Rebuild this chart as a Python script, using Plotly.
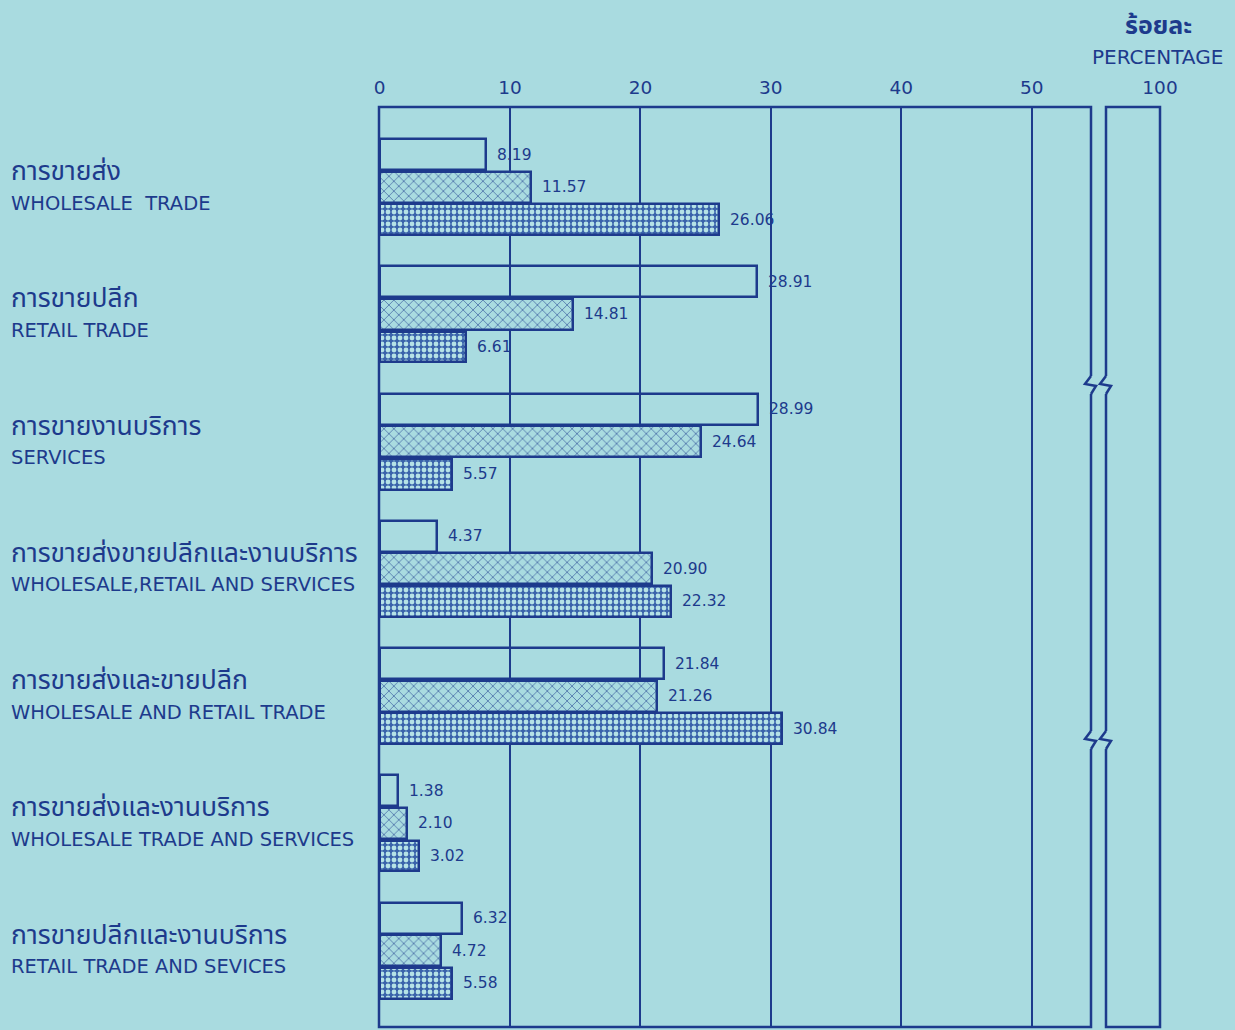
import plotly.graph_objects as go

# ---------------- data ----------------
cat_th = ["การขายส่ง", "การขายปลีก", "การขายงานบริการ", "การขายส่งขายปลีกและงานบริการ",
          "การขายส่งและขายปลีก", "การขายส่งและงานบริการ", "การขายปลีกและงานบริการ"]
cat_en = ["WHOLESALE  TRADE", "RETAIL TRADE", "SERVICES", "WHOLESALE,RETAIL AND SERVICES",
          "WHOLESALE AND RETAIL TRADE", "WHOLESALE TRADE AND SERVICES", "RETAIL TRADE AND SEVICES"]
series_a = [8.19, 28.91, 28.99, 4.37, 21.84, 1.38, 6.32]
series_b = [11.57, 14.81, 24.64, 20.90, 21.26, 2.10, 4.72]
series_c = [26.06, 6.61, 5.57, 22.32, 30.84, 3.02, 5.58]
x_ticks = [0, 10, 20, 30, 40, 50]
x2_ticks = [100]

# ---------------- style ----------------
W, H = 1235, 1030
BG = "#a9dbe0"
INK = "#1d3a8c"
FONT = "DejaVu Sans, Noto Sans, sans-serif"
TFONT = "Noto Sans Thai, Loma, Garuda, Noto Sans, sans-serif"

def px(x):
    return x / W

def py(y):
    return 1 - y / H

idx = list(range(len(cat_th)))
offs = [-0.256, 0.0, 0.256]
bw = 0.243

fig = go.Figure()
DOT_BG = "#3a63ab"
patterns = [
    dict(shape=""),
    dict(shape="x", fgcolor=INK, bgcolor=BG, size=7, solidity=0.15, fillmode="replace"),
    dict(shape=".", fgcolor="#b5e2e6", bgcolor=DOT_BG, size=6, solidity=0.5, fillmode="replace"),
]
fills = ["rgba(0,0,0,0)", BG, DOT_BG]
for vals, off, pat, fc in zip([series_a, series_b, series_c], offs, patterns, fills):
    fig.add_trace(go.Bar(
        x=vals, y=[i + off for i in idx], orientation="h", width=bw,
        marker=dict(color=fc, line=dict(color=INK, width=2.5), pattern=pat),
        hoverinfo="x", showlegend=False, xaxis="x", yaxis="y",
    ))
    for v, i in zip(vals, idx):
        fig.add_annotation(x=v, y=i + off, xref="x", yref="y", text=f"{v:.2f}",
                           showarrow=False, xanchor="left", xshift=9,
                           font=dict(size=15.5, color=INK, family=FONT))

# empty trace on second axis to keep it shown
fig.add_trace(go.Bar(x=[None], y=[0], xaxis="x2", yaxis="y", showlegend=False))

for i in idx:
    fig.add_annotation(x=px(9), y=i, xref="paper", yref="y", yshift=15,
                       text=cat_th[i], showarrow=False, xanchor="left",
                       font=dict(size=26.5, color=INK, family=TFONT))
    fig.add_annotation(x=px(9), y=i, xref="paper", yref="y", yshift=-16,
                       text=cat_en[i], showarrow=False, xanchor="left",
                       font=dict(size=19.5, color=INK, family=FONT))

fig.add_annotation(x=px(1158), y=py(26), xref="paper", yref="paper", text="<b>ร้อยละ</b>",
                   showarrow=False, xanchor="center", yanchor="middle",
                   font=dict(size=25, color=INK, family=TFONT))
fig.add_annotation(x=px(1157), y=py(57), xref="paper", yref="paper", text="PERCENTAGE",
                   showarrow=False, xanchor="center", yanchor="middle",
                   font=dict(size=20, color=INK, family=FONT))

# panel boxes
for xr in ["x domain", "x2 domain"]:
    fig.add_shape(type="rect", xref=xr, yref="y domain", x0=0, x1=1, y0=0, y1=1,
                  line=dict(color=INK, width=2.5), fillcolor="rgba(0,0,0,0)", layer="above")

# break marks (zigzags)
for yb in [385, 740]:
    for xb in [1091, 1106]:
        path = (f"M {px(xb)},{py(yb-9)} L {px(xb-6)},{py(yb-1)} "
                f"L {px(xb+5)},{py(yb+1)} L {px(xb)},{py(yb+9)}")
        fig.add_shape(type="rect", xref="paper", yref="paper",
                      x0=px(xb-2), x1=px(xb+2), y0=py(yb+9), y1=py(yb-9),
                      line=dict(width=0), fillcolor=BG, layer="above")
        fig.add_shape(type="path", path=path, xref="paper", yref="paper",
                      line=dict(color=INK, width=2.5), layer="above")

axis_common = dict(showline=False, side="top", ticks="", zeroline=False,
                   ticklabelstandoff=8, automargin=False,
                   tickfont=dict(size=18.5, color=INK, family=FONT))
fig.update_layout(
    width=W, height=H, autosize=False,
    margin=dict(l=0, r=0, t=0, b=0, pad=0, autoexpand=False),
    paper_bgcolor=BG, plot_bgcolor=BG,
    barmode="overlay", bargap=0,
    xaxis=dict(domain=[px(379), px(1091)], range=[-0.05, 54.55], tickvals=x_ticks,
               showgrid=True, gridcolor=INK, gridwidth=2, anchor="y", **axis_common),
    xaxis2=dict(domain=[px(1106), px(1160)], range=[95.9, 100], tickvals=x2_ticks,
                showgrid=False, anchor="y", **axis_common),
    yaxis=dict(domain=[py(1027), py(107)], range=[6.6, -0.63], showticklabels=False,
               showgrid=False, zeroline=False, showline=False, ticks="", automargin=False),
)
fig.write_html(
    "out.html",
    config={"displayModeBar": False, "responsive": False},
    post_script=("document.body.style.margin='0';"
                 "document.documentElement.style.overflow='hidden';"
                 "document.body.style.overflow='hidden';"),
)
